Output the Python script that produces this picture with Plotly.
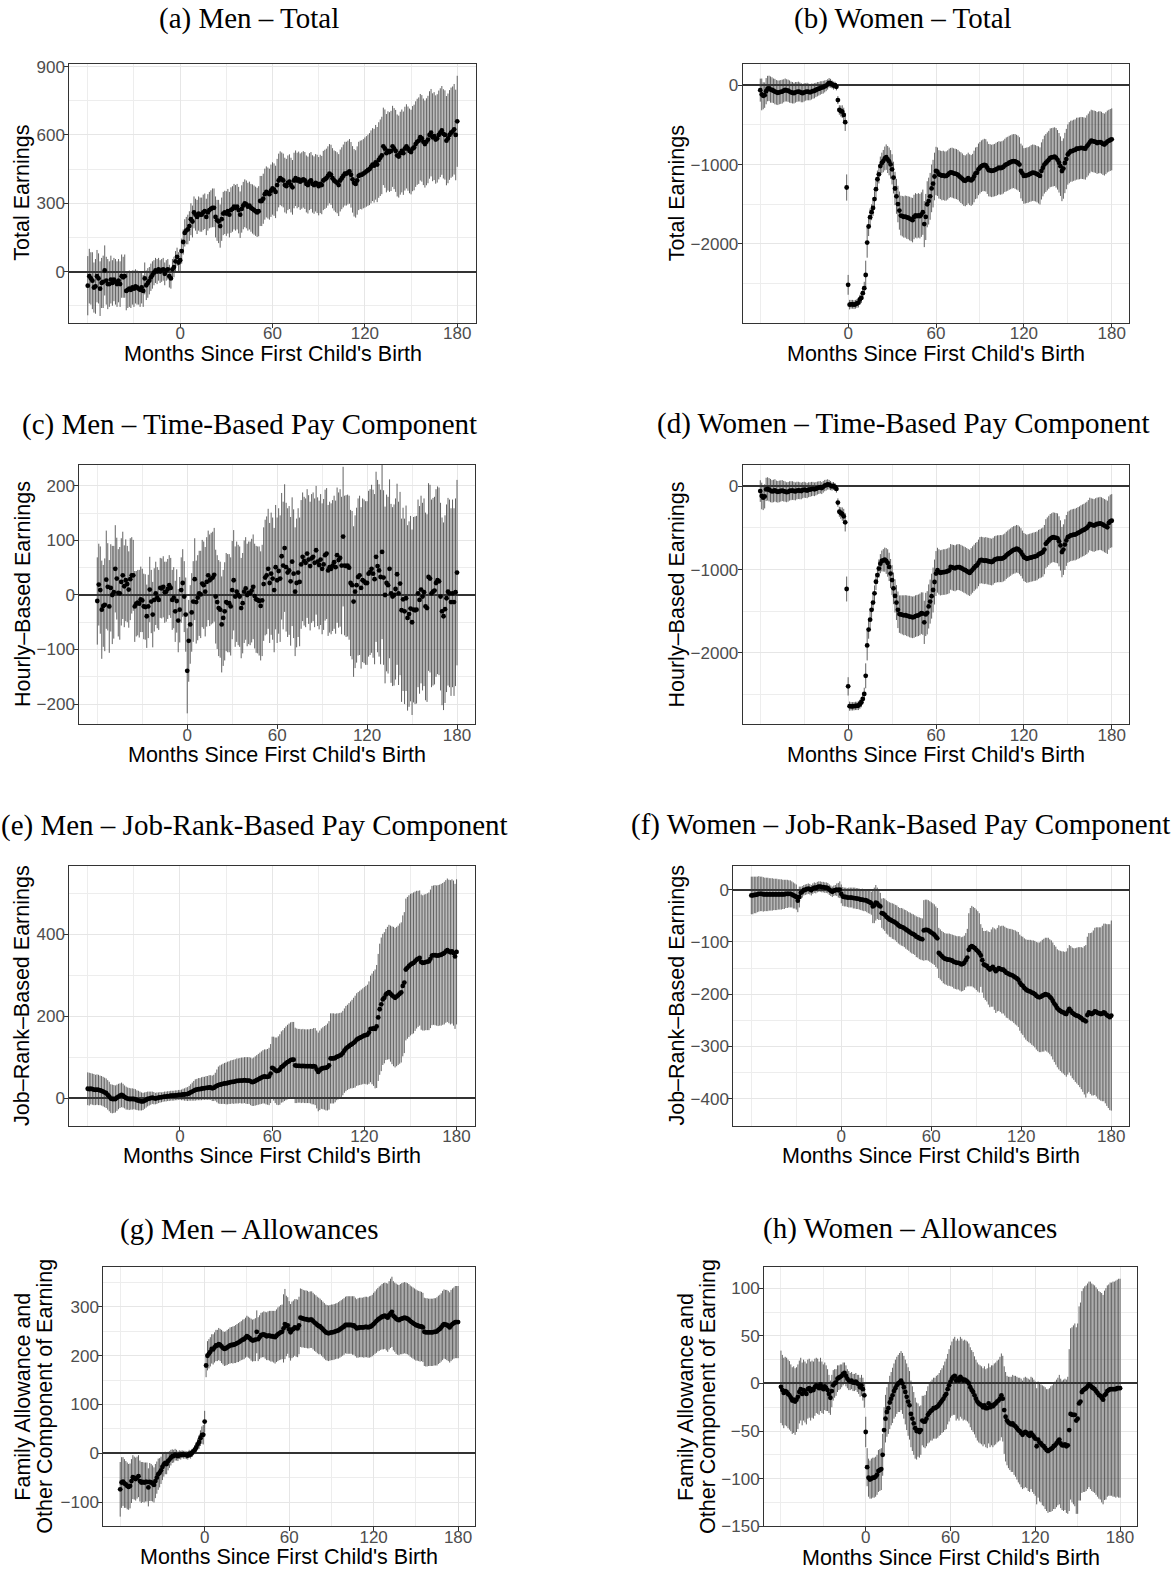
import plotly.graph_objects as go

W, H = 1175, 1585
months = list(range(-60, 181))

# ---------------- (a) Men - Total ----------------
a_vals = [-62, -20, -30, -40, -70, -65, -20, -30, -75, -50, -45, 5,
          -40, -55, -55, -35, -50, -35, -45, -55, -40, -55, -20, -25,
          -20, -85, -80, -75, -80, -70, -75, -65, -70, -75, -80, -70,
          -85, -30, -60, -50, -40, -25, -15, -5, 5, 0, 10, 0,
          5, 10, -10, 5, 10, -20, -30, 10, 20, 45, 65, 40,
          50, 90, 130, 170, 180, 185, 200, 230, 220, 260, 250, 240,
          255, 250, 250, 260, 265, 240, 260, 270, 275, 280, 280, 240,
          225, 220, 200, 230, 255, 260, 255, 265, 250, 270, 275, 285,
          280, 285, 270, 250, 275, 290, 300, 295, 285, 290, 280, 275,
          270, 265, 260, 265, 310, 310, 320, 340, 350, 345, 340, 355,
          365, 360, 350, 380, 400, 410, 405, 400, 380, 375, 390, 395,
          380, 370, 400, 410, 400, 405, 395, 400, 405, 400, 385, 380,
          395, 400, 385, 380, 390, 385, 375, 385, 380, 400, 405, 410,
          420, 430, 425, 410, 400, 395, 390, 380, 400, 410, 420, 430,
          430, 435, 440, 425, 405, 390, 385, 400, 420, 425, 425, 430,
          435, 440, 445, 450, 460, 470, 465, 480, 470, 490, 500, 510,
          550, 540, 520, 530, 525, 530, 550, 540, 530, 510, 505, 520,
          530, 520, 540, 550, 540, 530, 525, 540, 545, 560, 570, 575,
          590, 585, 570, 560, 570, 580, 600, 610, 590, 595, 580, 585,
          600, 610, 620, 605, 600, 575, 585, 600, 610, 615, 625, 600,
          660]
a_ci = [130, 120, 115, 125, 110, 120, 115, 110, 120, 110, 115, 110,
        105, 110, 100, 105, 100, 95, 100, 100, 95, 100, 95, 90,
        95, 85, 80, 80, 80, 75, 80, 75, 75, 70, 75, 70,
        70, 70, 65, 65, 60, 60, 60, 55, 55, 55, 50, 50,
        50, 50, 50, 45, 45, 50, 45, 45, 45, 45, 40, 45,
        50, 55, 55, 60, 60, 65, 65, 70, 70, 70, 70, 75,
        75, 75, 75, 78, 78, 80, 80, 80, 82, 85, 85, 90,
        90, 95, 95, 95, 95, 95, 98, 98, 100, 100, 100, 100,
        100, 100, 102, 102, 104, 104, 105, 105, 105, 105, 105, 108,
        108, 108, 108, 110, 110, 110, 110, 112, 112, 112, 112, 115,
        115, 115, 115, 115, 118, 118, 118, 118, 120, 120, 120, 120,
        120, 120, 122, 122, 122, 122, 124, 124, 124, 125, 125, 125,
        125, 125, 126, 126, 126, 128, 128, 128, 128, 130, 130, 130,
        130, 130, 132, 132, 132, 134, 134, 136, 136, 136, 138, 140,
        140, 140, 142, 144, 146, 148, 148, 150, 150, 150, 152, 152,
        154, 155, 156, 158, 160, 160, 162, 164, 165, 166, 168, 170,
        170, 172, 172, 174, 175, 176, 178, 178, 180, 180, 180, 182,
        182, 183, 184, 185, 185, 186, 186, 187, 188, 188, 189, 190,
        190, 190, 190, 191, 191, 192, 192, 192, 193, 193, 194, 194,
        195, 195, 195, 196, 196, 196, 197, 197, 198, 198, 199, 199,
        200]

# ---------------- (b) Women - Total ----------------
b_vals = [-62, -116, -133, -125, -75, -42, -40, -55, -60, -70, -80, -90,
          -95, -90, -85, -80, -70, -60, -65, -70, -80, -90, -95, -100,
          -90, -85, -80, -85, -95, -100, -90, -85, -80, -85, -90, -80,
          -75, -70, -60, -50, -45, -35, -30, -25, -15, -5, 10, 30,
          25, 10, -5, 0, -20, -187, -312, -325, -333, -374, -466, -1289,
          -2515, -2765, -2760, -2760, -2765, -2760, -2750, -2740, -2700, -2680, -2620, -2557,
          -2391, -1983, -1780, -1663, -1600, -1547, -1435, -1310, -1185, -1123, -1019, -980,
          -956, -923, -906, -936, -960, -998, -1060, -1164, -1301, -1400, -1497, -1580,
          -1642, -1650, -1660, -1655, -1665, -1670, -1680, -1690, -1700, -1660, -1640, -1650,
          -1640, -1650, -1630, -1600, -1750, -1660, -1500, -1460, -1400, -1300, -1240, -1150,
          -1081, -1090, -1123, -1130, -1140, -1135, -1145, -1143, -1130, -1110, -1100, -1102,
          -1110, -1115, -1120, -1130, -1150, -1164, -1180, -1200, -1205, -1190, -1170, -1190,
          -1200, -1185, -1150, -1110, -1102, -1060, -1040, -1020, -1010, -1005, -1010, -1040,
          -1070, -1073, -1080, -1075, -1070, -1060, -1050, -1040, -1045, -1040, -1030, -1010,
          -998, -990, -977, -970, -960, -956, -960, -970, -980, -1000, -1081, -1110,
          -1143, -1140, -1135, -1130, -1120, -1110, -1102, -1105, -1110, -1120, -1130, -1143,
          -1080, -1040, -1000, -980, -960, -940, -915, -910, -905, -900, -915, -940,
          -977, -1020, -1081, -1050, -980, -930, -873, -850, -832, -830, -820, -815,
          -800, -798, -795, -790, -792, -795, -800, -770, -748, -720, -699, -705,
          -710, -715, -728, -720, -718, -725, -740, -748, -730, -710, -700, -690,
          -682]
b_ci = [145, 200, 170, 160, 165, 160, 160, 165, 160, 155, 160, 155,
        155, 150, 150, 150, 145, 145, 140, 140, 140, 135, 135, 130,
        130, 125, 125, 120, 120, 115, 115, 110, 110, 105, 100, 100,
        95, 95, 90, 90, 85, 85, 80, 80, 75, 70, 65, 60,
        55, 50, 50, 45, 45, 50, 60, 70, 80, 90, 110, 165,
        125, 60, 55, 55, 55, 55, 55, 60, 60, 65, 70, 80,
        180, 190, 120, 110, 100, 100, 100, 105, 110, 115, 120, 130,
        140, 150, 160, 170, 175, 180, 190, 200, 210, 220, 230, 240,
        250, 255, 260, 265, 270, 270, 275, 275, 280, 280, 280, 280,
        280, 280, 280, 285, 290, 290, 290, 295, 295, 300, 300, 300,
        305, 305, 305, 305, 310, 310, 310, 310, 310, 310, 310, 315,
        315, 315, 315, 315, 315, 320, 320, 320, 320, 320, 320, 320,
        320, 320, 325, 325, 325, 325, 325, 325, 325, 330, 330, 330,
        330, 330, 330, 330, 330, 335, 335, 335, 335, 335, 335, 335,
        340, 340, 340, 340, 340, 340, 345, 345, 345, 345, 345, 350,
        350, 350, 350, 350, 350, 355, 355, 355, 355, 355, 360, 360,
        360, 360, 365, 365, 365, 365, 370, 370, 370, 370, 375, 375,
        375, 375, 380, 380, 380, 380, 380, 385, 385, 385, 385, 385,
        390, 390, 390, 390, 390, 390, 390, 390, 390, 390, 390, 390,
        390, 390, 390, 390, 390, 390, 390, 390, 390, 390, 390, 390,
        390]

# ---------------- (c) Men - Time-Based ----------------
c_vals = [-11, 19, 9, -27, -20, -18, 28, 15, -21, 13, 0, 5,
          48, 30, 4, 3, 24, 36, 16, 27, 20, 10, 29, 36,
          36, -21, -16, -14, -16, -8, -10, -21, -22, -39, -21, 10,
          -12, -36, -9, 3, -5, -9, 13, 12, 15, 5, 6, 11,
          18, 13, -9, -5, -30, -11, -47, -27, 9, 22, -3, -36,
          -139, -84, -54, -32, -12, 29, -13, -5, 3, 1, 21, 18,
          6, 24, 36, 27, 30, 32, 37, -3, -13, -24, -27, -54,
          -42, -30, -13, -15, -15, -21, 9, 27, -3, 6, 0, -3,
          -24, -15, 6, 12, 0, 4, 3, 8, 15, -2, -8, -9,
          -11, -20, -10, 20, 32, 36, 48, 22, 39, 30, 9, 51,
          27, 44, 30, 71, 54, 86, 51, 41, 45, 25, 61, 39,
          6, 22, 41, 24, 56, 70, 62, 59, 76, 65, 53, 67,
          70, 59, 82, 61, 55, 65, 48, 56, 73, 76, 45, 51,
          48, 54, 60, 51, 73, 64, 68, 54, 107, 54, 53, 54,
          50, 22, 18, -12, 6, 18, 33, 36, 13, 27, 25, 22,
          22, 39, 42, 48, 39, 29, 70, 53, 45, 33, 79, 32,
          0, 22, 18, 48, 3, -3, 0, 11, 38, 3, 21, -28,
          -8, -30, -6, -42, -35, -25, -50, -27, -28, -27, 3, -9,
          10, -3, 5, -21, -24, 33, 30, 3, 6, 8, 22, 27,
          25, -3, -30, -39, -26, -6, 6, 3, -13, 3, -13, 5,
          41]
c_ci = [80, 75, 80, 90, 75, 85, 90, 80, 85, 80, 90, 85,
        80, 75, 80, 85, 80, 80, 75, 75, 70, 70, 75, 70,
        65, 65, 60, 60, 62, 60, 58, 60, 60, 58, 58, 60,
        58, 60, 58, 58, 56, 55, 55, 55, 56, 56, 55, 55,
        55, 55, 55, 56, 56, 58, 58, 60, 60, 62, 65, 68,
        78, 75, 72, 72, 74, 75, 76, 78, 78, 80, 80, 80,
        82, 82, 82, 84, 84, 84, 86, 86, 86, 88, 88, 88,
        88, 90, 90, 90, 90, 90, 90, 92, 92, 92, 92, 92,
        92, 92, 94, 94, 94, 94, 95, 95, 96, 96, 98, 98,
        100, 100, 102, 104, 106, 108, 110, 110, 112, 112, 114, 114,
        115, 115, 116, 116, 117, 117, 118, 118, 118, 118, 118, 118,
        118, 118, 118, 118, 118, 118, 118, 118, 118, 118, 118, 118,
        118, 118, 118, 118, 118, 120, 120, 120, 120, 120, 120, 120,
        120, 120, 122, 122, 124, 124, 126, 126, 128, 128, 130, 130,
        132, 134, 136, 138, 140, 142, 144, 146, 148, 150, 150, 150,
        150, 152, 152, 154, 154, 156, 156, 158, 158, 160, 160, 160,
        162, 162, 162, 164, 164, 164, 166, 166, 166, 168, 168, 168,
        168, 170, 170, 170, 170, 170, 170, 170, 172, 172, 172, 172,
        172, 172, 172, 172, 172, 172, 172, 172, 172, 172, 172, 172,
        172, 172, 172, 172, 172, 172, 172, 172, 172, 172, 172, 172,
        170]

# ---------------- (d) Women - Time-Based ----------------
d_vals = [-56, -115, -135, -120, -36, -30, -40, -50, -60, -55, -48, -60,
          -65, -60, -55, -50, -58, -62, -70, -65, -55, -52, -50, -55,
          -60, -50, -48, -52, -55, -45, -40, -45, -50, -40, -38, -32,
          -30, -35, -28, -20, -15, -10, -20, -5, 10, 15, 24, 20,
          10, 0, 5, -5, -30, -194, -305, -320, -333, -360, -432, -1234,
          -2405, -2643, -2645, -2645, -2643, -2640, -2640, -2635, -2620, -2596, -2556, -2496,
          -2278, -1913, -1722, -1603, -1484, -1397, -1286, -1147, -1067, -988, -929, -897,
          -889, -881, -897, -921, -968, -1048, -1127, -1226, -1317, -1397, -1484, -1536,
          -1540, -1545, -1550, -1548, -1555, -1560, -1565, -1570, -1575, -1571, -1560, -1555,
          -1550, -1540, -1524, -1530, -1635, -1540, -1520, -1444, -1385, -1320, -1246, -1150,
          -1048, -1008, -1028, -1040, -1035, -1030, -1030, -1025, -1020, -1010, -968, -975,
          -980, -985, -975, -970, -972, -980, -990, -1000, -1008, -1020, -1030, -1040,
          -1020, -1000, -980, -960, -948, -920, -889, -885, -890, -895, -890, -897,
          -900, -905, -910, -900, -881, -875, -870, -870, -868, -869, -860, -850,
          -830, -815, -802, -790, -775, -765, -760, -750, -755, -770, -790, -820,
          -849, -860, -870, -865, -860, -855, -850, -845, -841, -835, -817, -810,
          -800, -790, -760, -690, -670, -650, -630, -620, -611, -615, -620, -625,
          -660, -710, -790, -760, -700, -650, -611, -600, -590, -585, -580, -579,
          -570, -560, -552, -540, -530, -524, -510, -500, -480, -452, -460, -465,
          -470, -460, -452, -450, -445, -450, -460, -472, -480, -492, -440, -420,
          -413]
d_ci = [130, 160, 150, 145, 140, 140, 140, 140, 135, 135, 135, 130,
        130, 130, 128, 126, 124, 122, 120, 118, 116, 114, 112, 110,
        108, 106, 104, 102, 100, 98, 96, 94, 92, 90, 88, 86,
        84, 82, 80, 78, 76, 74, 72, 70, 68, 65, 62, 58,
        55, 50, 48, 45, 45, 50, 60, 70, 80, 90, 110, 150,
        110, 55, 50, 50, 50, 50, 50, 55, 55, 60, 65, 75,
        150, 180, 110, 100, 95, 95, 95, 100, 105, 110, 115, 125,
        135, 145, 155, 165, 170, 175, 180, 190, 200, 210, 220, 225,
        230, 235, 240, 240, 245, 245, 250, 250, 250, 250, 250, 250,
        250, 250, 250, 255, 260, 260, 260, 265, 265, 270, 270, 270,
        270, 270, 272, 272, 272, 274, 274, 274, 275, 275, 275, 275,
        276, 276, 276, 276, 277, 277, 277, 278, 278, 278, 278, 278,
        279, 279, 279, 280, 280, 280, 280, 280, 280, 280, 281, 281,
        281, 281, 281, 282, 282, 282, 282, 283, 283, 283, 283, 284,
        284, 284, 285, 285, 285, 286, 286, 286, 287, 287, 288, 288,
        289, 289, 290, 290, 291, 291, 292, 292, 293, 293, 294, 294,
        295, 295, 296, 296, 297, 297, 298, 298, 299, 299, 300, 300,
        301, 302, 303, 304, 305, 306, 307, 308, 309, 310, 310, 311,
        311, 312, 312, 313, 313, 314, 314, 315, 315, 316, 316, 317,
        317, 318, 318, 318, 319, 319, 319, 320, 320, 320, 320, 320,
        320]

# ---------------- (e) Men - Job-Rank-Based ----------------
e_vals = [23, 22, 23, 22, 21, 20, 21, 20, 19, 18, 16, 14,
          12, 8, 4, -1, -2, -2, -2, 1, 4, 6, 8, 6,
          3, 0, -1, -2, -2, -2, -2, -3, -5, -6, -7, -8,
          -8, -6, -4, -2, -1, 0, 1, 0, -1, 0, 1, 2,
          2, 3, 4, 4, 5, 5, 6, 6, 6, 7, 7, 8,
          8, 8, 9, 9, 10, 10, 12, 14, 16, 18, 20, 21,
          22, 22, 23, 24, 24, 25, 25, 26, 26, 24, 25, 28,
          30, 32, 33, 34, 35, 36, 36, 37, 38, 39, 40, 40,
          41, 42, 42, 43, 43, 43, 44, 43, 43, 43, 41, 39,
          40, 42, 44, 46, 48, 50, 52, 53, 52, 52, 53, 60,
          74, 72, 68, 66, 67, 70, 76, 78, 82, 85, 88, 90,
          93, 94, 94, 80, 79, 79, 79, 78, 79, 78, 78, 78,
          78, 78, 77, 78, 77, 70, 64, 68, 72, 73, 74, 74,
          76, 80, 97, 97, 97, 98, 101, 102, 104, 106, 110, 116,
          121, 124, 127, 130, 132, 135, 138, 143, 145, 147, 149, 151,
          153, 154, 155, 160, 169, 169, 170, 169, 175, 197, 217, 229,
          241, 245, 253, 256, 259, 255, 251, 248, 245, 248, 251, 255,
          258, 274, 282, 314, 318, 322, 326, 328, 330, 334, 338, 340,
          342, 332, 330, 331, 332, 333, 334, 340, 348, 349, 349, 348,
          348, 349, 350, 352, 354, 358, 361, 358, 356, 358, 354, 346,
          357]
e_ci = [40, 40, 38, 38, 38, 37, 37, 37, 36, 36, 36, 36,
        36, 36, 36, 35, 35, 34, 33, 32, 31, 30, 30, 29,
        28, 28, 27, 27, 26, 26, 25, 25, 24, 24, 23, 22,
        21, 20, 19, 18, 17, 16, 15, 15, 14, 14, 13, 13,
        12, 12, 12, 12, 12, 12, 12, 12, 12, 12, 12, 12,
        12, 13, 14, 15, 16, 17, 18, 20, 22, 24, 26, 26,
        27, 27, 28, 28, 28, 29, 29, 30, 30, 31, 32, 34,
        40, 45, 47, 48, 49, 50, 51, 52, 52, 53, 53, 54,
        54, 55, 55, 55, 56, 56, 56, 57, 57, 57, 58, 58,
        59, 60, 61, 62, 63, 64, 65, 66, 67, 68, 70, 72,
        76, 78, 80, 82, 84, 86, 87, 88, 89, 90, 91, 92,
        92, 92, 92, 92, 91, 90, 90, 90, 90, 90, 90, 90,
        90, 91, 92, 93, 94, 95, 96, 97, 98, 100, 102, 104,
        106, 108, 110, 110, 110, 108, 106, 105, 104, 103, 103, 103,
        104, 104, 105, 106, 108, 110, 112, 113, 114, 115, 116, 117,
        118, 120, 122, 125, 130, 135, 140, 145, 150, 155, 160, 163,
        160, 160, 160, 162, 164, 166, 168, 170, 170, 170, 170, 171,
        171, 172, 172, 173, 173, 173, 173, 172, 172, 170, 168, 166,
        165, 165, 165, 166, 166, 167, 168, 169, 170, 170, 171, 171,
        172, 172, 173, 173, 174, 174, 175, 175, 176, 176, 177, 177,
        177]

# ---------------- (f) Women - Job-Rank-Based ----------------
f_vals = [-11, -11, -10, -10, -9, -8, -8, -8, -9, -9, -9, -9,
          -9, -9, -9, -9, -9, -9, -9, -9, -9, -9, -9, -8,
          -8, -8, -8, -9, -11, -12, -14, -21, -14, -6, -4, -1,
          0, 1, 2, 1, -1, 2, 4, 3, 5, 6, 6, 5,
          5, 4, 4, 3, 0, -2, -4, -2, -1, 0, -1, 0,
          -8, -13, -14, -14, -15, -15, -15, -15, -16, -16, -17, -17,
          -18, -19, -19, -20, -20, -21, -23, -24, -26, -32, -30, -25,
          -26, -30, -32, -45, -46, -48, -52, -54, -57, -58, -60, -61,
          -63, -65, -68, -70, -71, -72, -74, -76, -78, -80, -82, -84,
          -85, -87, -90, -91, -93, -94, -95, -78, -77, -77, -78, -80,
          -82, -84, -86, -90, -93, -121, -124, -127, -130, -132, -133, -134,
          -134, -135, -136, -138, -139, -140, -140, -141, -143, -142, -140, -135,
          -130, -115, -110, -108, -110, -112, -115, -118, -121, -126, -135, -143,
          -145, -146, -150, -153, -150, -148, -152, -156, -153, -150, -152, -153,
          -153, -156, -159, -160, -162, -163, -164, -166, -168, -170, -172, -178,
          -182, -184, -188, -191, -193, -194, -195, -197, -198, -200, -203, -205,
          -206, -205, -203, -202, -200, -201, -202, -205, -208, -213, -218, -222,
          -227, -230, -232, -234, -235, -237, -238, -233, -228, -232, -236, -238,
          -240, -241, -242, -244, -246, -249, -250, -252, -240, -235, -237, -238,
          -236, -233, -234, -236, -237, -238, -237, -235, -237, -240, -242, -244,
          -241]
f_ci = [36, 36, 35, 35, 34, 34, 33, 33, 33, 32, 32, 32,
        31, 31, 31, 30, 30, 30, 29, 29, 29, 28, 28, 27,
        27, 26, 26, 25, 25, 24, 24, 22, 20, 12, 11, 10,
        10, 10, 10, 10, 10, 10, 10, 10, 10, 10, 10, 10,
        10, 10, 10, 10, 10, 10, 10, 10, 10, 12, 14, 16,
        18, 18, 18, 18, 18, 19, 19, 19, 20, 20, 20, 20,
        20, 20, 21, 21, 21, 22, 22, 22, 22, 32, 34, 34,
        30, 28, 26, 28, 30, 31, 32, 32, 33, 33, 34, 34,
        34, 35, 35, 35, 36, 36, 36, 37, 37, 37, 38, 38,
        38, 38, 39, 39, 40, 40, 40, 58, 58, 58, 58, 58,
        58, 58, 58, 58, 58, 48, 48, 48, 49, 49, 49, 50,
        50, 50, 50, 51, 51, 51, 51, 52, 52, 52, 52, 52,
        55, 70, 75, 77, 77, 77, 77, 77, 76, 60, 62, 64,
        66, 68, 70, 72, 74, 76, 78, 80, 80, 82, 82, 84,
        84, 85, 86, 86, 87, 88, 88, 89, 90, 90, 91, 92,
        93, 94, 95, 96, 97, 98, 99, 100, 101, 102, 103, 104,
        105, 106, 107, 108, 108, 109, 110, 110, 111, 112, 112, 113,
        113, 114, 115, 116, 117, 118, 120, 121, 122, 124, 125, 126,
        128, 130, 132, 134, 136, 138, 142, 146, 150, 152, 154, 156,
        158, 160, 162, 164, 165, 166, 168, 170, 172, 174, 176, 178,
        182]

# ---------------- (g) Men - Allowances ----------------
g_vals = [-74, -60, -58, -62, -64, -67, -69, -67, -57, -49, -51, -53,
          -50, -47, -57, -60, -59, -60, -59, -59, -70, -59, -60, -62,
          -65, -57, -50, -43, -40, -35, -28, -23, -20, -22, -16, -13,
          -9, -6, -6, -3, -4, -6, -3, -4, -2, -3, -3, -4,
          -5, -1, -3, 1, 4, 7, 12, 18, 23, 31, 37, 38,
          65, 180, 200, 204, 208, 214, 213, 217, 221, 221, 224, 222,
          219, 216, 214, 215, 217, 219, 221, 222, 222, 223, 224, 226,
          227, 229, 231, 233, 234, 237, 240, 238, 236, 233, 231, 232,
          233, 249, 234, 238, 242, 243, 244, 242, 240, 241, 241, 240,
          240, 239, 238, 241, 244, 246, 248, 249, 256, 265, 261, 262,
          254, 248, 253, 255, 258, 257, 256, 262, 278, 277, 276, 275,
          275, 274, 273, 274, 274, 271, 268, 266, 263, 261, 260, 257,
          254, 251, 248, 247, 246, 247, 248, 248, 249, 250, 251, 252,
          254, 256, 258, 260, 263, 263, 263, 263, 263, 262, 262, 259,
          256, 257, 258, 258, 258, 258, 259, 259, 258, 259, 260, 262,
          265, 268, 271, 274, 276, 278, 280, 281, 282, 280, 278, 283,
          287, 290, 282, 279, 276, 274, 273, 275, 276, 277, 278, 277,
          276, 274, 271, 269, 267, 265, 263, 262, 261, 260, 260, 258,
          249, 248, 248, 248, 248, 248, 248, 249, 249, 250, 253, 255,
          258, 262, 265, 264, 263, 261, 258, 262, 265, 267, 269, 269,
          269]
g_ci = [56, 52, 50, 50, 48, 48, 47, 46, 45, 45, 44, 44,
        43, 43, 42, 42, 41, 41, 40, 40, 39, 39, 38, 37,
        36, 35, 33, 32, 30, 28, 27, 25, 23, 21, 19, 17,
        16, 14, 13, 12, 11, 10, 9, 9, 8, 8, 8, 8,
        8, 8, 8, 8, 8, 9, 10, 12, 14, 16, 18, 20,
        22, 24, 30, 30, 30, 30, 31, 31, 32, 32, 33, 33,
        34, 34, 35, 35, 36, 36, 37, 37, 38, 38, 39, 39,
        40, 40, 40, 41, 41, 41, 42, 42, 42, 43, 43, 43,
        44, 44, 45, 45, 46, 46, 47, 48, 49, 50, 51, 52,
        52, 53, 54, 54, 55, 55, 56, 56, 70, 72, 62, 58,
        58, 58, 58, 58, 58, 59, 59, 59, 60, 60, 59, 59,
        59, 59, 58, 58, 58, 58, 58, 58, 58, 58, 57, 57,
        57, 57, 57, 57, 57, 57, 57, 57, 57, 57, 57, 58,
        58, 58, 58, 58, 58, 59, 59, 59, 59, 60, 60, 60,
        60, 61, 61, 61, 61, 62, 62, 62, 62, 63, 63, 63,
        64, 64, 65, 65, 66, 66, 67, 68, 68, 69, 70, 70,
        71, 72, 71, 71, 72, 72, 72, 72, 73, 73, 73, 73,
        73, 73, 73, 73, 73, 73, 73, 72, 72, 72, 71, 71,
        70, 70, 70, 69, 69, 69, 69, 69, 69, 70, 70, 70,
        70, 71, 71, 71, 72, 72, 72, 73, 73, 73, 74, 74,
        74]

# ---------------- (h) Women - Allowances ----------------
h_vals = [-3.5, -7, -10, -8, -9, -11, -12.5, -15, -18, -17, -19, -17,
          -14, -9, -6, -11, -7, -9, -11, -6, -5, -8, -6, -7,
          -4, -2, -3, -5, -1, -4, -6, -3, -5, -7, -11, -15,
          -8, -2, 0, 1, 5, 6, 7, 8, 10, 11, 8, 5,
          3, 2, 3, 1, 1, 2, 0, -1, -4, -2, -6, -12.5,
          -51, -88, -99, -101, -100, -99, -99, -98, -96, -92, -91, -90,
          -75, -49, -37, -30, -26, -20, -16, -12.5, -8, -5, -2, 0,
          1, 3, 0, -4, -9, -14, -19, -23, -32, -37, -42, -47,
          -50, -49, -51, -49, -39, -40, -40, -37, -33, -31, -29, -28,
          -26, -26, -25, -24, -22, -20, -18, -16, -13, -11, -6, -2,
          2, 5, 7, 8, 3, 5, 3, 7, 5, 3, 4, 3,
          2, 0, -4, -7, -9, -12.5, -16, -19, -21, -22, -23, -25,
          -23, -26, -26, -21, -25, -23, -24, -22, -21, -19, -18, -16,
          -12.5, -16, -28, -35, -39, -41, -42, -43, -42, -44, -45, -47,
          -49, -50, -52, -54, -52, -51, -52, -54, -55, -52, -54, -56,
          -58, -66, -59, -62, -63, -65, -66, -68, -70, -71, -70, -69,
          -68, -66, -65, -63, -61, -59, -63, -65, -65, -64, -66, -65,
          -49, -32, -33, -33, -33, -39, -37, -21, -19, -9, -7, -6,
          -5, -3, -1, -2, -4, -5, -6, -8, -10, -12, -13, -15,
          -17, -12.5, -11, -8, -7, -6, -6, -6, -6, -6, -5, -5,
          -5]
h_ci = [38, 37, 37, 36, 36, 36, 36, 35, 35, 35, 35, 34,
        34, 33, 33, 33, 32, 32, 32, 31, 31, 31, 30, 30,
        30, 29, 29, 28, 28, 27, 26, 25, 24, 22, 20, 18,
        17, 16, 15, 14, 14, 13, 13, 12, 12, 11, 11, 10,
        10, 9, 9, 9, 9, 9, 9, 10, 10, 11, 12, 13,
        16, 20, 20, 20, 21, 21, 21, 21, 21, 22, 22, 22,
        22, 24, 25, 26, 27, 28, 28, 29, 29, 30, 30, 30,
        31, 31, 32, 33, 34, 35, 36, 36, 35, 34, 33, 32,
        30, 28, 27, 26, 26, 27, 28, 29, 30, 31, 31, 32,
        32, 32, 33, 33, 33, 34, 34, 35, 36, 37, 37, 38,
        38, 39, 40, 41, 42, 42, 42, 42, 42, 42, 42, 42,
        42, 42, 42, 42, 42, 41, 41, 41, 41, 41, 41, 41,
        41, 41, 42, 42, 42, 42, 43, 43, 43, 43, 43, 44,
        44, 45, 46, 47, 47, 48, 49, 50, 51, 52, 53, 54,
        55, 56, 57, 57, 58, 58, 58, 59, 59, 59, 60, 60,
        60, 61, 61, 62, 62, 63, 63, 64, 64, 65, 65, 66,
        66, 66, 67, 67, 67, 68, 68, 68, 69, 69, 70, 72,
        85, 90, 92, 94, 96, 98, 100, 102, 104, 106, 107, 108,
        108, 108, 108, 109, 109, 109, 109, 109, 109, 109, 109, 110,
        110, 110, 111, 111, 111, 112, 112, 113, 113, 114, 114, 115,
        115]

x_major = [0, 60, 120, 180]
x_minor = [-60, -30, 30, 90, 150]

panels = [
    dict(title="(a) Men – Total", ylab=["Total Earnings"], vals=a_vals, ci=a_ci,
         box=(69.3, 475.7, 58.3, 320.0), yr=(-224.8, 913), yt=[0, 300, 600, 900],
         ym=[-150, 150, 450, 750], tx=249, ty=12.5, ylx=[22.5], xt_off=31.5),
    dict(title="(b) Women – Total", ylab=["Total Earnings"], vals=b_vals, ci=b_ci,
         box=(742.7, 1129.3, 58.3, 320.0), yr=(-2993, 271), yt=[-2000, -1000, 0],
         ym=[-2500, -1500, -500], tx=902.5, ty=12.5, ylx=[677], xt_off=31.5),
    dict(title="(c) Men – Time-Based Pay Component", ylab=["Hourly–Based Earnings"], vals=c_vals, ci=c_ci,
         box=(79.3, 475.0, 463.3, 725.7), yr=(-237.2, 239), yt=[-200, -100, 0, 100, 200],
         ym=[-150, -50, 50, 150], tx=249, ty=423, ylx=[23.5], xt_off=31),
    dict(title="(d) Women – Time-Based Pay Component", ylab=["Hourly–Based Earnings"], vals=d_vals, ci=d_ci,
         box=(742.7, 1129.3, 463.3, 725.7), yr=(-2862, 262), yt=[-2000, -1000, 0],
         ym=[-2500, -1500, -500], tx=903, ty=422, ylx=[677], xt_off=31),
    dict(title="(e) Men – Job-Rank-Based Pay Component", ylab=["Job–Rank–Based Earnings"], vals=e_vals, ci=e_ci,
         box=(69.3, 475.0, 869.0, 1131.0), yr=(-66.9, 566), yt=[0, 200, 400],
         ym=[100, 300, 500], tx=254, ty=828.3, ylx=[22], xt_off=31),
    dict(title="(f) Women – Job-Rank-Based Pay Component", ylab=["Job–Rank–Based Earnings"], vals=f_vals, ci=f_ci,
         box=(733.3, 1129.3, 868.3, 1131.0), yr=(-451.6, 46.3), yt=[-400, -300, -200, -100, 0],
         ym=[-450, -350, -250, -150, -50], tx=900, ty=826.6, ylx=[677], xt_off=31),
    dict(title="(g) Men – Allowances", ylab=["Family Allowance and", "Other Component of Earning"], vals=g_vals, ci=g_ci,
         box=(103.3, 475.0, 1274.0, 1535.7), yr=(-149.6, 381.7), yt=[-100, 0, 100, 200, 300],
         ym=[-50, 50, 150, 250, 350], tx=249, ty=1236, ylx=[23, 45], xt_off=31.5),
    dict(title="(h) Women – Allowances", ylab=["Family Allowance and", "Other Component of Earning"], vals=h_vals, ci=h_ci,
         box=(764.0, 1137.0, 1274.3, 1536.0), yr=(-150.3, 121.9), yt=[-150, -100, -50, 0, 50, 100],
         ym=[-125, -75, -25, 25, 75], tx=910, ty=1234.5, ylx=[686, 708], xt_off=31.5),
]

for p in panels:
    assert len(p["vals"]) == 241 and len(p["ci"]) == 241, (p["title"], len(p["vals"]), len(p["ci"]))


def fmt(v):
    return ("−" + str(abs(v))) if v < 0 else str(v)


SANS = "Liberation Sans, Arial, Helvetica, sans-serif"
SERIF = "Liberation Serif, Times New Roman, serif"

fig = go.Figure()
layout = dict(width=W, height=H, margin=dict(l=0, r=0, t=0, b=0),
              paper_bgcolor="white", plot_bgcolor="white", showlegend=False)
annotations = []

for i, p in enumerate(panels, start=1):
    sfx = "" if i == 1 else str(i)
    L, R, T, B = p["box"]
    fig.add_trace(go.Scatter(
        x=months, y=p["vals"], mode="markers",
        marker=dict(color="black", size=4.8),
        error_y=dict(type="data", array=p["ci"], visible=True,
                     color="rgba(55,55,55,0.78)", thickness=1.0, width=0),
        xaxis="x" + sfx, yaxis="y" + sfx, hoverinfo="skip"))
    layout["xaxis" + sfx] = dict(
        domain=[L / W, R / W], range=[-72, 192], anchor="y" + sfx,
        tickmode="array", tickvals=x_major, ticktext=[fmt(v) for v in x_major],
        showgrid=True, gridcolor="#E6E6E6", gridwidth=1.2,
        minor=dict(tickmode="array", tickvals=x_minor, showgrid=True,
                   gridcolor="#EDEDED", gridwidth=0.9, ticks=""),
        zeroline=False, showline=True, mirror=True, linecolor="#333333", linewidth=1,
        ticks="outside", ticklen=4, tickcolor="#333333", tickwidth=1,
        ticklabelstandoff=-9,
        tickfont=dict(family=SANS, size=17, color="#4D4D4D"))
    layout["yaxis" + sfx] = dict(
        domain=[1 - B / H, 1 - T / H], range=list(p["yr"]), anchor="x" + sfx,
        tickmode="array", tickvals=p["yt"], ticktext=[fmt(v) for v in p["yt"]],
        showgrid=True, gridcolor="#E6E6E6", gridwidth=1.2,
        minor=dict(tickmode="array", tickvals=p["ym"], showgrid=True,
                   gridcolor="#EDEDED", gridwidth=0.9, ticks=""),
        zeroline=True, zerolinecolor="#333333", zerolinewidth=1.5,
        showline=True, mirror=True, linecolor="#333333", linewidth=1,
        ticks="outside", ticklen=4, tickcolor="#333333", tickwidth=1,
        ticklabelstandoff=-4,
        tickfont=dict(family=SANS, size=17, color="#4D4D4D"))
    # panel title
    annotations.append(dict(text=p["title"], x=p["tx"] / W, y=1 - p["ty"] / H,
                            xref="paper", yref="paper", xanchor="center", yanchor="middle",
                            showarrow=False, font=dict(family=SERIF, size=29, color="black")))
    # x-axis title
    annotations.append(dict(text="Months Since First Child's Birth", x=(L + R) / 2 / W,
                            y=1 - (B + p["xt_off"]) / H, xref="paper", yref="paper",
                            xanchor="center", yanchor="middle", showarrow=False,
                            font=dict(family=SANS, size=21.5, color="black")))
    # y-axis title(s)
    for lab, lx in zip(p["ylab"], p["ylx"]):
        annotations.append(dict(text=lab, x=lx / W, y=1 - (T + B) / 2 / H,
                                xref="paper", yref="paper", xanchor="center", yanchor="middle",
                                textangle=-90, showarrow=False,
                                font=dict(family=SANS, size=21.5, color="black")))

layout["annotations"] = annotations
fig.update_layout(**layout)
fig.write_html("out.html")
